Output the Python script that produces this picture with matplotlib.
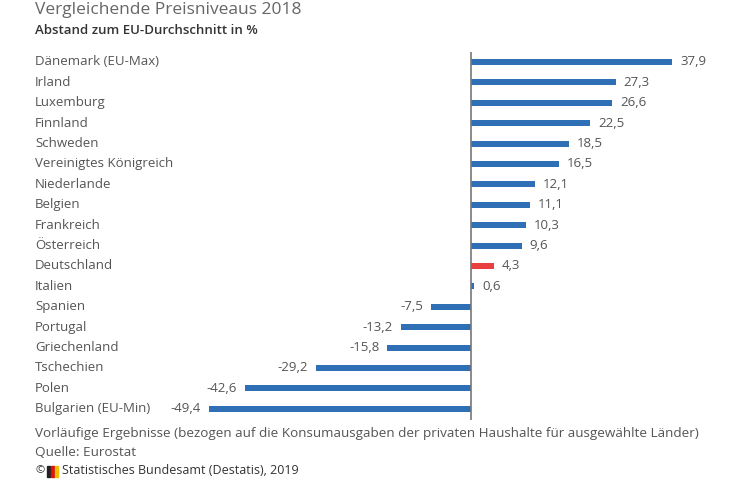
import matplotlib.pyplot as plt
from matplotlib.patches import Rectangle
from matplotlib.transforms import blended_transform_factory

plt.rcParams['font.family'] = ['Open Sans', 'DejaVu Sans']

countries = ["Dänemark (EU-Max)", "Irland", "Luxemburg", "Finnland", "Schweden",
             "Vereinigtes Königreich", "Niederlande", "Belgien", "Frankreich",
             "Österreich", "Deutschland", "Italien", "Spanien", "Portugal",
             "Griechenland", "Tschechien", "Polen", "Bulgarien (EU-Min)"]
values = [37.9, 27.3, 26.6, 22.5, 18.5, 16.5, 12.1, 11.1, 10.3, 9.6, 4.3, 0.6,
          -7.5, -13.2, -15.8, -29.2, -42.6, -49.4]
highlight = "Deutschland"

W, H = 740, 480
fig = plt.figure(figsize=(7.4, 4.8), dpi=100)

# axes placed in pixel space: x 30..720, y 52..418
ax = fig.add_axes([30 / W, 1 - 420 / H, 690 / W, 368 / H])
scale = 201 / 37.9  # px per unit
ax.set_xlim((30 - 471) / scale, (720 - 471) / scale)
ax.set_ylim((420 - 62) / 20.4, -(62 - 52) / 20.4)

blue = "#2f6fb5"
red = "#e8403e"
grey = "#555555"
cols = [red if c == highlight else blue for c in countries]
ypos = list(range(len(countries)))
ax.barh(ypos, values, height=0.3, color=cols)
ax.axvline(0, color="#777777", lw=1.2)

for y, v in zip(ypos, values):
    txt = f"{v:.1f}".replace(".", ",")
    off = 1.5 if v >= 0 else -1.5
    ax.text(v + off, y, txt, ha="left" if v >= 0 else "right", va="center",
            fontsize=9.5, color=grey)

lab_tr = blended_transform_factory(fig.transFigure, ax.transData)
for y, c in zip(ypos, countries):
    ax.text(35 / W, y, c, transform=lab_tr, ha="left", va="center",
            fontsize=9.5, color=grey)

ax.axis("off")

fig.text(35 / W, 1 - 10 / H, "Vergleichende Preisniveaus 2018", fontsize=12.5,
         color="#666666", va="center")
fig.text(35 / W, 1 - 31 / H, "Abstand zum EU-Durchschnitt in %", fontsize=9.5,
         color="#333333", va="center", fontweight="semibold")
fig.text(35 / W, 1 - 434 / H,
         "Vorläufige Ergebnisse (bezogen auf die Konsumausgaben der privaten Haushalte für ausgewählte Länder)",
         fontsize=9.7, color=grey, va="center")
fig.text(35 / W, 1 - 453 / H, "Quelle: Eurostat", fontsize=9.7, color=grey, va="center")
fig.text(35 / W, 1 - 471 / H, "©", fontsize=8, color="#333333", va="center")
for i, fc in enumerate(["#222222", "#dd1111", "#f0c000"]):
    fig.add_artist(Rectangle(((47 + i * 4) / W, 1 - 477 / H), 3 / W, 11 / H,
                             transform=fig.transFigure, color=fc))
fig.text(62 / W, 1 - 471 / H, "Statistisches Bundesamt (Destatis), 2019",
         fontsize=9, color="#333333", va="center")

fig.savefig("out.png", dpi=100, facecolor="white")
